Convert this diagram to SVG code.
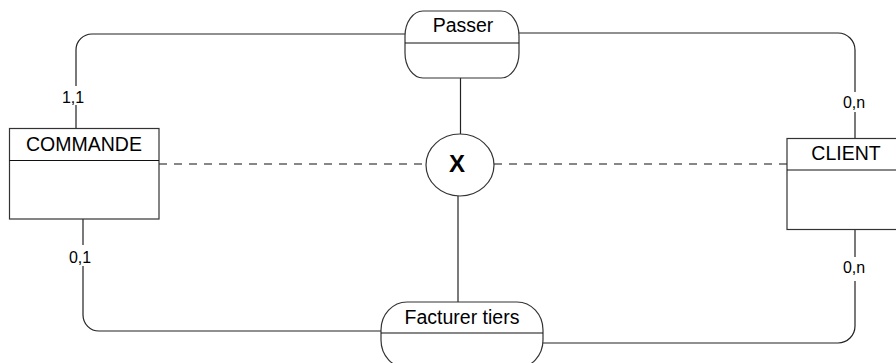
<svg xmlns="http://www.w3.org/2000/svg" width="896" height="363" viewBox="0 0 896 363">
<style>
.box{fill:#fff;stroke:#333;stroke-width:1.2}
.div{stroke:#111;stroke-width:1.2}
.conn{fill:none;stroke:#222;stroke-width:1.2}
.dash{fill:none;stroke:#111;stroke-width:1.2;stroke-dasharray:8 7}
.t{font-family:"Liberation Sans",Arial,sans-serif;font-size:19.5px;fill:#000;text-anchor:middle}
.card{font-family:"Liberation Sans",Arial,sans-serif;font-size:16px;fill:#000;text-anchor:middle}
.bg{fill:#fff}
.x{font-family:"Liberation Sans",Arial,sans-serif;font-size:24px;font-weight:bold;fill:#000;text-anchor:middle}
</style>
<rect width="896" height="363" fill="#fff"/>
<g id="connectors">
<path class="conn" d="M405,34 H92 A16,16 0 0 0 76,50 V129"/>
<path class="conn" d="M519,33 H838 A17,17 0 0 1 855,50 V138"/>
<path class="conn" d="M83,219 V315 A16,16 0 0 0 99,331 H381"/>
<path class="conn" d="M855,229 V326 A17,17 0 0 1 838,343 H543"/>
<path class="conn" d="M460.5,78 V134"/>
<path class="conn" d="M458,196 V302"/>
<path class="dash" d="M159,164 H426"/>
<path class="dash" d="M494,164 H792"/>
<rect class="bg" x="63" y="86" width="22" height="19"/>
<text class="card" x="73" y="103">1,1</text>
<rect class="bg" x="843" y="92" width="24" height="20"/>
<text class="card" x="854" y="108">0,n</text>
<rect class="bg" x="69" y="245" width="24" height="21"/>
<text class="card" x="80" y="263">0,1</text>
<rect class="bg" x="843" y="257" width="24" height="24"/>
<text class="card" x="854" y="273">0,n</text>
</g>
<g id="commande">
<rect class="box" x="9.5" y="128.5" width="149.5" height="90.5"/>
<line class="div" x1="9.5" y1="160.5" x2="159" y2="160.5"/>
<text class="t" x="84" y="151">COMMANDE</text>
</g>
<g id="client">
<rect class="box" x="787" y="138.5" width="140" height="91"/>
<line class="div" x1="787" y1="170" x2="896" y2="170"/>
<text class="t" x="846" y="160">CLIENT</text>
</g>
<g id="passer">
<path class="box" d="M423,11 H501 A18,25 0 0 1 519,36 V53 A18,25 0 0 1 501,78 H423 A18,25 0 0 1 405,53 V36 A18,25 0 0 1 423,11 Z"/>
<line class="div" x1="405" y1="43" x2="519" y2="43"/>
<text class="t" x="463" y="32">Passer</text>
</g>
<g id="facturer">
<path class="box" d="M407,302 H517 A26,28 0 0 1 543,330 V340 A26,28 0 0 1 517,368 H407 A26,28 0 0 1 381,340 V330 A26,28 0 0 1 407,302 Z"/>
<line class="div" x1="381" y1="333" x2="543" y2="333"/>
<text class="t" x="462" y="324">Facturer tiers</text>
</g>
<g id="xor">
<ellipse class="box" cx="460" cy="165" rx="34" ry="31"/>
<text class="x" x="457" y="172">X</text>
</g>
</svg>
